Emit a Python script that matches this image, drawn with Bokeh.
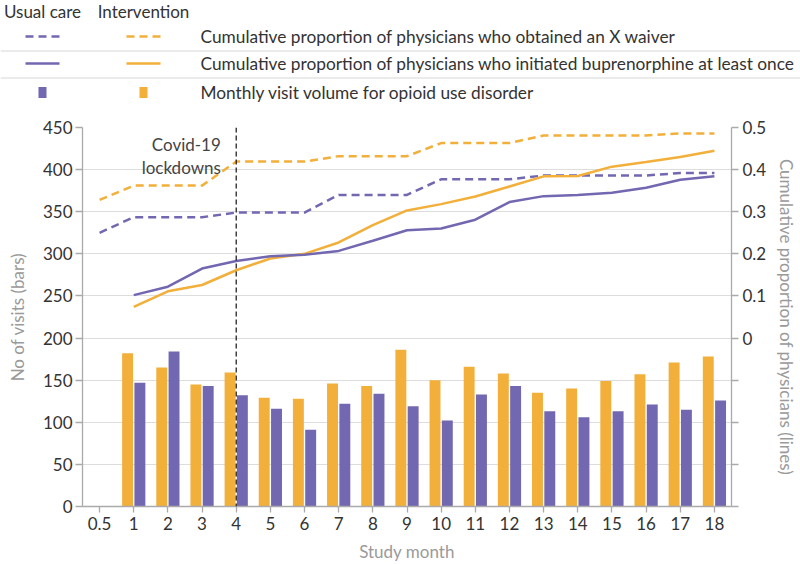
from bokeh.plotting import figure
from bokeh.models import Range1d, LinearAxis, FixedTicker, Span
from bokeh.embed import file_html
from bokeh.resources import INLINE
from bokeh.core.properties import value

# ---------------- data ----------------
month_labels = ["0.5"] + [str(i) for i in range(1, 19)]
bar_months = [str(i) for i in range(1, 19)]

visits_intervention = [182, 165, 145, 159, 129, 128, 146, 143, 186, 150, 166, 158, 135, 140, 149, 157, 171, 178]
visits_usual = [147, 184, 143, 132, 116, 91, 122, 134, 119, 102, 133, 143, 113, 106, 113, 121, 115, 126]

waiver_usual = [0.250, 0.287, 0.287, 0.287, 0.298, 0.298, 0.298, 0.340, 0.340, 0.340,
                0.377, 0.377, 0.377, 0.386, 0.386, 0.386, 0.386, 0.392, 0.392]
waiver_intervention = [0.328, 0.362, 0.362, 0.362, 0.419, 0.419, 0.419, 0.432, 0.432, 0.432,
                       0.463, 0.463, 0.463, 0.481, 0.481, 0.481, 0.481, 0.486, 0.486]
initiated_usual = [0.102, 0.122, 0.165, 0.183, 0.194, 0.198, 0.207, 0.231, 0.256, 0.260,
                   0.281, 0.323, 0.337, 0.340, 0.345, 0.357, 0.376, 0.384]
initiated_intervention = [0.074, 0.111, 0.126, 0.161, 0.189, 0.200, 0.227, 0.268, 0.303, 0.318,
                          0.336, 0.360, 0.384, 0.385, 0.407, 0.418, 0.430, 0.445]

left_ticks = [0, 50, 100, 150, 200, 250, 300, 350, 400, 450]
right_ticks = [-0.4, -0.3, -0.2, -0.1, 0, 0.1, 0.2, 0.3, 0.4, 0.5]
right_labels = ["", "", "", "", "0", "0.1", "0.2", "0.3", "0.4", "0.5"]
lockdown_month = "4"

ORANGE = "#F2AF3A"
PURPLE = "#7267B1"
FONT = "Lato"
W = 800

# positions from categories
pos = {m: i for i, m in enumerate(month_labels)}
x_all = [pos[m] for m in month_labels]
x_bar = [pos[m] for m in bar_months]
off = 0.18
bw = 0.32

# ---------------- legend figure ----------------
LH = 112
leg = figure(width=W, height=LH, x_range=Range1d(0, W), y_range=Range1d(LH, 0),
             x_axis_type=None, y_axis_type=None, toolbar_location=None,
             output_backend="svg", min_border=0)
leg.grid.visible = False
leg.outline_line_color = None

col_x = [42, 143]
rows_y = [36, 63, 92]
leg.text(x=col_x, y=[11, 11], text=["Usual care", "Intervention"], text_align="center",
         text_baseline="middle", text_font=value(FONT), text_font_size="17px", text_color="#333333")
for yy in [50.5, 77.5]:
    leg.segment(x0=[0], y0=[yy], x1=[W], y1=[yy], line_color="#d6d6d6", line_width=1)
for cx, colr in zip(col_x, [PURPLE, ORANGE]):
    leg.segment(x0=[cx - 17], y0=[rows_y[0]], x1=[cx + 17], y1=[rows_y[0]], line_color=colr,
                line_width=2.5, line_dash="8 5")
    leg.segment(x0=[cx - 17], y0=[rows_y[1]], x1=[cx + 17], y1=[rows_y[1]], line_color=colr,
                line_width=2.5)
    leg.rect(x=[cx], y=[rows_y[2]], width=8, height=11, fill_color=colr, line_color=None)
leg.text(x=[200] * 3, y=rows_y,
         text=["Cumulative proportion of physicians who obtained an X waiver",
               "Cumulative proportion of physicians who initiated buprenorphine at least once",
               "Monthly visit volume for opioid use disorder"],
         text_align="left", text_baseline="middle", text_font=value(FONT),
         text_font_size="17.3px", text_color="#333333")

# ---------------- main figure ----------------
MH = 564 - LH
p = figure(width=W, height=MH, x_range=Range1d(-0.5, 18.5), y_range=Range1d(0, 450),
           toolbar_location=None, output_backend="svg",
           min_border_left=82, min_border_right=69, min_border_top=15, min_border_bottom=58)
p.outline_line_color = None
p.xgrid.visible = False
p.ygrid.ticker = FixedTicker(ticks=left_ticks[1:-1])
p.ygrid.grid_line_color = "#dddddd"
p.ygrid.grid_line_width = 1

p.extra_y_ranges = {"prop": Range1d(-0.4, 0.5)}

# bars
p.vbar(x=[x - off for x in x_bar], top=visits_intervention, width=bw, fill_color=ORANGE, line_color=None)
p.vbar(x=[x + off for x in x_bar], top=visits_usual, width=bw, fill_color=PURPLE, line_color=None)

# lines
p.line(x_all, waiver_intervention, y_range_name="prop", line_color=ORANGE, line_width=2.5, line_dash="8 5")
p.line(x_all, waiver_usual, y_range_name="prop", line_color=PURPLE, line_width=2.5, line_dash="8 5")
p.line(x_bar, initiated_intervention, y_range_name="prop", line_color=ORANGE, line_width=2.5)
p.line(x_bar, initiated_usual, y_range_name="prop", line_color=PURPLE, line_width=2.5)

# lockdown marker
p.add_layout(Span(location=pos[lockdown_month], dimension="height", line_color="#111111",
                  line_width=1.2, line_dash="5 3"))
p.text(x=[pos[lockdown_month] - 0.45] * 2, y=[430, 402], text=["Covid-19", "lockdowns"],
       text_align="right", text_baseline="middle", text_font=value(FONT),
       text_font_size="17px", text_color="#444444")

AX = "#aaaaaa"
def style_axis(ax):
    ax.axis_line_color = AX
    ax.axis_line_width = 1.3
    ax.major_tick_line_color = AX
    ax.major_tick_line_width = 1.3
    ax.minor_tick_line_color = None
    ax.major_tick_out = 7
    ax.major_tick_in = 0
    ax.major_label_text_font = FONT
    ax.major_label_text_font_size = "17px"
    ax.major_label_text_color = "#333333"
    ax.axis_label_text_font = FONT
    ax.axis_label_text_font_size = "17px"
    ax.axis_label_text_font_style = "normal"
    ax.axis_label_text_color = "#9a9a9a"

# x axis
xa = p.xaxis[0]
xa.ticker = FixedTicker(ticks=x_all)
xa.major_label_overrides = {i: m for i, m in enumerate(month_labels)}
xa.axis_label = "Study month"
style_axis(xa)
xa.major_tick_out = 6
xa.major_label_standoff = 4
xa.axis_label_standoff = 8

# left axis
ya = p.yaxis[0]
ya.ticker = FixedTicker(ticks=left_ticks)
ya.axis_label = "No of visits (bars)"
style_axis(ya)
ya.major_label_standoff = 3
ya.axis_label_standoff = 12

# right axis
ra = LinearAxis(y_range_name="prop", axis_label="Cumulative proportion of physicians (lines)")
ra.ticker = FixedTicker(ticks=right_ticks)
ra.major_label_overrides = {t: l for t, l in zip(right_ticks, right_labels)}
style_axis(ra)
ra.major_label_standoff = 4
ra.axis_label_standoff = 7
p.add_layout(ra, "right")

open("out.html", "w").write(file_html([leg, p], INLINE))
